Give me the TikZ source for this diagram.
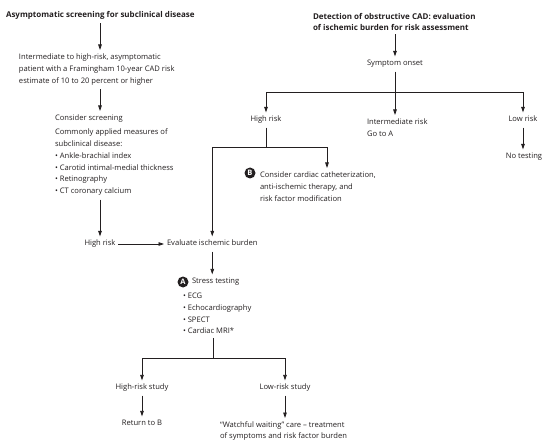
\documentclass[tikz,border=0pt]{standalone}
\usepackage{fontspec}
\setmainfont{Open Sans}
\usetikzlibrary{arrows.meta,calc}
\definecolor{ink}{HTML}{231F20}
\tikzset{
  every node/.style={font=\fontsize{7.6}{11.8}\selectfont,text=ink,inner sep=0pt,
                     outer xsep=3pt,outer ysep=4pt},
  flow/.style={-{Triangle[length=5.5pt,width=3.6pt]},draw=ink,line width=.8pt},
  link/.style={draw=ink,line width=.8pt},
  head/.style={font=\fontsize{8}{11}\selectfont\bfseries,align=left},
  txt/.style={align=left},
  one/.style={text height=5.6pt,text depth=1.7pt},
  badge/.style={circle,fill=ink,text=white,minimum size=11pt,outer sep=0pt,
                font=\fontsize{7.5}{7.5}\selectfont\bfseries},
}

\begin{document}
\begin{tikzpicture}[x=1pt,y=-1pt]           % pixel grid, y down
\path[use as bounding box] (0,0) rectangle (550,444);

% Left column: screening of patients without symptoms
\node[head,anchor=west] (tA) at (3,15) {Asymptomatic screening for subclinical disease};
\node[txt,anchor=north west] (pat) at (16,50)
      {Intermediate to high-risk, asymptomatic\\patient with a Framingham 10-year CAD risk\\estimate of 10 to 20 percent or higher};
\node[txt,anchor=north west] (scr) at (52,111)
      {Consider screening\\[2.2pt]Commonly applied measures of\\subclinical disease:\\
       • Ankle-brachial index\\• Carotid intimal-medial thickness\\• Retinography\\• CT coronary calcium};
\node[one] (hiL) at (100,244) {High risk};
\node[one,anchor=west] (evb) at (164,244) {Evaluate ischemic burden};

\coordinate (cL) at (100,0);
\draw[flow] (tA.south -| cL) -- (pat.north -| cL);
\draw[flow] (pat.south -| cL) -- (scr.north -| cL);
\draw[flow] (scr.south -| hiL) -- (hiL);
\draw[flow] (hiL) -- (evb);

% Right column: patients with symptoms
\node[head,anchor=north west] (tB) at (310,9)
      {Detection of obstructive CAD: evaluation\\of ischemic burden for risk assessment};
\node[one] (sym) at (395,64) {Symptom onset};
\node[one] (hiR) at (266,120) {High risk};
\node[txt,anchor=north west] (inter) at (364,115) {Intermediate risk\\Go to A};
\node[one] (low) at (523,120) {Low risk};
\node[one] (none) at (524,157) {No testing};

\coordinate (j1) at (395,92);
\draw[flow] (tB.south -| sym) -- (sym);
\draw[flow] (sym) -- (sym |- inter.north);
\draw[flow] (j1) -| (hiR);
\draw[flow] (j1) -| (low);
\draw[flow] (low) -- (low |- none.north);

% High risk splits: treatment (B) or evaluation of the burden
\node[badge] (bB) at (250,173) {B};
\node[txt,anchor=north west] (cath) at (257,168)
      {Consider cardiac catheterization,\\anti-ischemic therapy, and\\risk factor modification};
\coordinate (j2) at (266,147);
\coordinate (cB) at (327,0);
\draw[link] (hiR) -- (j2);
\draw[flow] (j2) -| (cath.north -| cB);
\draw[flow] (j2) -| (evb);

% Stress testing (A) and its two outcomes
\node[badge] (bA) at (183,282) {A};
\node[one,anchor=west] (st) at (189,282) {Stress testing};
\node[txt,anchor=north west] (tests) at (180,289)
      {• ECG\\• Echocardiography\\• SPECT\\• Cardiac MRI*};
\node[one] (hst) at (142,388) {High-risk study};
\node[one] (lst) at (285,388) {Low-risk study};
\node[one] (ret) at (142,424) {Return to B};
\node[txt,anchor=north west] (watch) at (217,418)
      {“Watchful waiting” care – treatment\\[-0.8pt]of symptoms and risk factor burden};

\coordinate (j3) at (213,358);
\draw[flow] (evb) -- (evb |- st.north);
\draw[link] (tests.south -| j3) -- (j3);
\draw[flow] (j3) -| (hst);
\draw[flow] (j3) -| (lst);
\draw[flow] (hst) -- (ret);
\draw[flow] (lst) -- (lst |- watch.north);

\end{tikzpicture}
\end{document}
